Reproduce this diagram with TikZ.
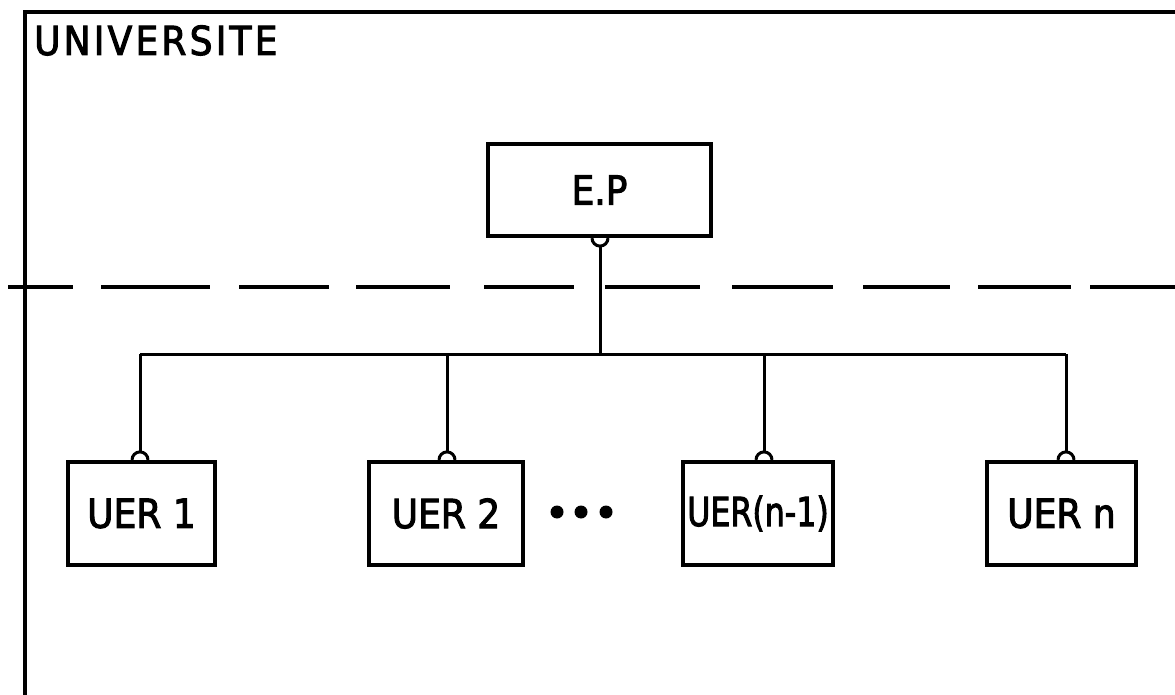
\documentclass[tikz,border=0pt]{standalone}
\usepackage{fontspec}
\setmainfont{DejaVu Sans}[FakeStretch=0.9, FakeBold=2.5]
\begin{document}
\begin{tikzpicture}[x=1pt,y=-1pt,
  lbl/.style={font=\fontsize{40}{44}\selectfont},
  box/.style={draw, line width=4.2pt, rectangle, inner sep=0pt, lbl},
  wire/.style={line width=3pt},
  frameline/.style={line width=3.6pt},
  sepline/.style={line width=4.2pt, dash pattern=on 65pt off 28pt on 109pt off 29pt on 90pt off 27pt on 94pt off 34pt on 90pt off 31pt on 95pt off 32pt on 101pt off 30pt on 87pt off 28pt on 93pt off 19pt on 200pt off 10pt},
  dot/.style={circle, fill=black, inner sep=0pt, minimum size=13pt}]
\useasboundingbox (0,0) rectangle (1175,695);

% frame
\coordinate (fbl) at (25,695);
\coordinate (ftl) at (25,12);
\coordinate (ftr) at (1175,12);
\draw[frameline] (fbl) -- (ftl) -- (ftr);
\node[lbl, anchor=base west, inner sep=0pt] (univ) at (34,55)
  {\addfontfeature{LetterSpace=8}UNIVERSITE};

% dashed separator
\coordinate (sl) at (8,287);
\coordinate (sr) at (1175,287);
\draw[sepline] (sl) -- (sr);

% boxes
\node[box, minimum width=223pt, minimum height=92pt] (ep) at (599.5,190) {E.P};
\node[box, minimum width=147pt, minimum height=103pt] (u1) at (141.5,513.5) {UER 1};
\node[box, minimum width=154pt, minimum height=103pt] (u2) at (446,513.5) {UER 2};
\node[box, minimum width=150pt, minimum height=103pt] (u3) at (758,513.5) {\scalebox{0.88}[1]{UER(n-1)}};
\node[box, minimum width=149pt, minimum height=103pt] (un) at (1061.5,513.5) {UER n};

% dots
\node[dot] (d1) at (557,512) {};
\node[dot] (d2) at (581,512) {};
\node[dot] (d3) at (606,512) {};

% bus coordinates
\coordinate (b0) at (600,354);
\coordinate (b1) at (140,354);
\coordinate (b2) at (447,354);
\coordinate (b3) at (764,354);
\coordinate (bn) at (1066,354);

% E.P connector with cup below
\draw[wire] ([xshift=-8pt]ep.south -| b0) arc[start angle=180, end angle=0, radius=8];
\draw[wire] ([yshift=-8pt]ep.south -| b0) -- (b0);
% bus
\draw[wire] (b1) -- (bn);
% drops with domes
\foreach \b/\u in {b1/u1, b2/u2, b3/u3, bn/un}{
  \draw[wire] (\b) -- ([yshift=8pt]\b |- \u.north);
  \draw[wire] ([xshift=-8pt]\b |- \u.north) arc[start angle=180, end angle=360, radius=8];
}
\end{tikzpicture}
\end{document}
